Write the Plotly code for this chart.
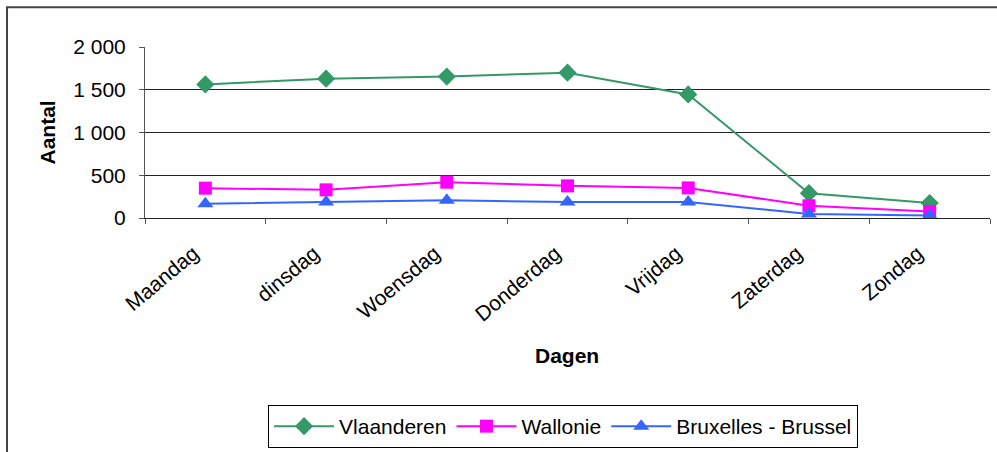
import plotly.graph_objects as go

dagen = ["Maandag", "dinsdag", "Woensdag", "Donderdag", "Vrijdag", "Zaterdag", "Zondag"]
vlaanderen = [1562, 1630, 1654, 1700, 1445, 290, 175]
wallonie = [349, 329, 419, 376, 352, 143, 77]
brussel = [166, 186, 209, 186, 186, 47, 30]
y_ticks = [0, 500, 1000, 1500, 2000]

fig = go.Figure()
fig.add_trace(go.Scatter(x=dagen, y=vlaanderen, name="Vlaanderen", mode="lines+markers",
                         line=dict(color="#339966", width=2),
                         marker=dict(symbol="diamond", size=14, color="#339966")))
fig.add_trace(go.Scatter(x=dagen, y=wallonie, name="Wallonie", mode="lines+markers",
                         line=dict(color="#FF00FF", width=2),
                         marker=dict(symbol="square", size=13, color="#FF00FF")))
fig.add_trace(go.Scatter(x=dagen, y=brussel, name="Bruxelles - Brussel", mode="lines+markers",
                         line=dict(color="#3366FF", width=2),
                         marker=dict(symbol="triangle-up", size=14, color="#3366FF")))

fig.update_layout(
    width=997, height=452,
    margin=dict(l=145, r=7, t=47, b=233),
    paper_bgcolor="white", plot_bgcolor="white",
    separators=", ",
    font=dict(family="Liberation Sans, Arial, sans-serif", color="black"),
    showlegend=True,
    legend=dict(orientation="h", x=0.1456, xanchor="left", y=-1.0814, yanchor="top",
                bordercolor="black", borderwidth=1, font=dict(size=21),
                itemwidth=60, tracegroupgap=0),
    xaxis=dict(type="category", tickangle=-40, tickfont=dict(size=21),
               showline=True, linecolor="#222", linewidth=1,
               ticks="outside", tickson="boundaries", ticklen=5, tickcolor="#555",
               ticklabelstandoff=14, ticklabelshift=-12,
               showgrid=False, range=[-0.5, 6.5]),
    yaxis=dict(range=[0, 2000], tickvals=y_ticks, tickformat=",d", tickfont=dict(size=21),
               showline=True, linecolor="#555", linewidth=1,
               ticks="outside", ticklen=5, tickcolor="#555",
               ticklabelstandoff=9,
               showgrid=True, gridcolor="#222", gridwidth=1, zeroline=False),
    annotations=[
        dict(text="<b>Aantal</b>", x=-0.1148, y=0.5, xref="paper", yref="paper",
             xanchor="center", yanchor="middle",
             textangle=-90, showarrow=False, font=dict(size=21)),
        dict(text="<b>Dagen</b>", x=0.4994, y=-0.802, xref="paper", yref="paper",
             xanchor="center", yanchor="middle",
             showarrow=False, font=dict(size=21)),
    ],
    shapes=[
        dict(type="path", xref="paper", yref="paper",
             path="M -0.1633,-1.5 L -0.1633,1.2326 L 1.02,1.2326",
             line=dict(color="#444", width=2)),
    ],
)

fig.write_html("out.html", config={"displayModeBar": False},
               post_script="document.body.style.margin='0';")
